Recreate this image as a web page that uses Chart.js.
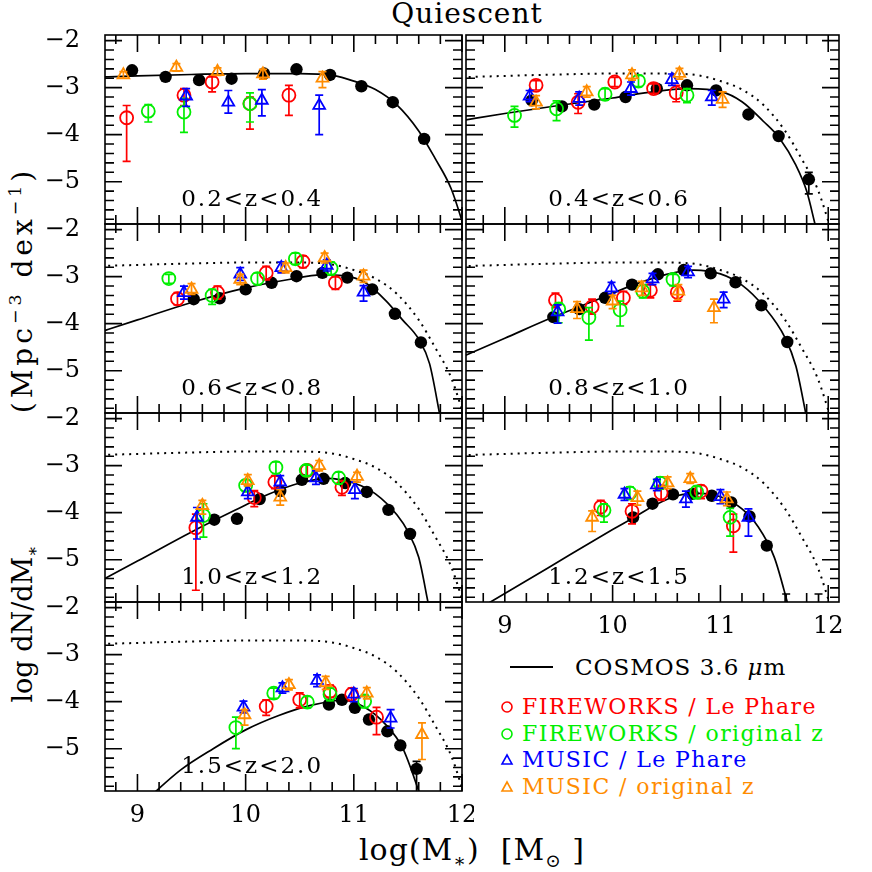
<!DOCTYPE html>
<html>
<head>
<meta charset="utf-8">
<script src="https://cdn.jsdelivr.net/npm/chart.js@4.4.1/dist/chart.umd.min.js"></script>
<style>
  html, body { margin: 0; padding: 0; background: #fff; }
  body { position: relative; width: 872px; height: 872px; overflow: hidden; font-family: "DejaVu Serif", serif; color: #000; }
  canvas { position: absolute; }
  .lbl { position: absolute; white-space: pre; transform: translate(-50%, -50%); }
  .rot { transform: translate(-50%, -50%) rotate(-90deg); }
  sub, sup { font-size: 0.62em; line-height: 0; }
  .leg { position: absolute; white-space: pre; font-size: 22px; letter-spacing: 1.4px; line-height: 26px; }
  .mk { position: absolute; }
</style>
</head>
<body>
<div class="lbl" style="left:467px;top:13px;font-size:28px;letter-spacing:1px">Quiescent</div>
<div class="lbl rot" style="left:22px;top:624px;font-size:27px">log dN/dM<sub>∗</sub></div>
<div class="lbl rot" style="left:22px;top:290px;font-size:28px;letter-spacing:4px">(Mpc<sup>−3</sup> dex<sup>−1</sup>)</div>
<div class="lbl" style="left:472px;top:849px;font-size:30px;letter-spacing:1px">log(M<sub>∗</sub>)  [M<sub>⊙</sub> ]</div>

<div style="position:absolute;left:510px;top:666px;width:43px;height:2px;background:#000"></div>
<div class="leg" style="left:575px;top:654px;font-size:23px;letter-spacing:1px">COSMOS 3.6 <i>μ</i>m</div>

<svg class="mk" style="left:500px;top:700px" width="14" height="14"><circle cx="7" cy="7" r="5" fill="none" stroke="#ff0000" stroke-width="1.6"/></svg>
<div class="leg" style="left:522px;top:694px;color:#ff0000">FIREWORKS / Le Phare</div>
<svg class="mk" style="left:500px;top:727px" width="14" height="14"><circle cx="7" cy="7" r="5" fill="none" stroke="#00ee00" stroke-width="1.6"/></svg>
<div class="leg" style="left:522px;top:721px;color:#00ee00">FIREWORKS / original z</div>
<svg class="mk" style="left:500px;top:753px" width="14" height="14"><polygon points="7,2 12,11 2,11" fill="none" stroke="#0000ff" stroke-width="1.6"/></svg>
<div class="leg" style="left:522px;top:747px;color:#0000ff">MUSIC / Le Phare</div>
<svg class="mk" style="left:500px;top:780px" width="14" height="14"><polygon points="7,2 12,11 2,11" fill="none" stroke="#ff8c00" stroke-width="1.6"/></svg>
<div class="leg" style="left:522px;top:774px;color:#ff8c00">MUSIC / original z</div>

<script>
// ---- data ----
const panelLabels = ['0.2<z<0.4', '0.4<z<0.6', '0.6<z<0.8', '0.8<z<1.0', '1.0<z<1.2', '1.2<z<1.5', '1.5<z<2.0'];
const xTickValues = [9, 10, 11, 12];
const yTickValues = [-2, -3, -4, -5];

// COSMOS 3.6um fit of the 0.2<z<0.4 bin (dotted in the other panels)
const refFitX = [8.6, 9.0, 9.5, 10.0, 10.5, 10.8, 11.0, 11.2, 11.4, 11.6, 11.75, 11.9, 12.05];
const refFitY = [-2.78, -2.75, -2.72, -2.70, -2.70, -2.74, -2.86, -3.04, -3.37, -3.92, -4.5, -5.15, -6.2];

// COSMOS fits, one per redshift bin
const fitX = [
  refFitX,
  [8.6, 9.0, 9.5, 10.0, 10.4, 10.7, 11.0, 11.2, 11.4, 11.55, 11.7, 11.8, 11.9, 12.0],
  [8.6, 9.0, 9.5, 10.0, 10.4, 10.7, 10.9, 11.1, 11.3, 11.45, 11.6, 11.7, 11.8],
  [8.6, 9.0, 9.45, 9.9, 10.2, 10.5, 10.75, 11.0, 11.2, 11.4, 11.6, 11.7, 11.8],
  [8.6, 9.0, 9.5, 9.9, 10.2, 10.5, 10.75, 11.0, 11.2, 11.4, 11.5, 11.6, 11.68, 11.75],
  [8.8, 9.2, 9.6, 10.0, 10.2, 10.4, 10.6, 10.8, 11.0, 11.2, 11.35, 11.5, 11.62, 11.7],
  [9.1, 9.4, 9.7, 10.0, 10.3, 10.6, 10.9, 11.1, 11.3, 11.45, 11.6, 11.7]
];
const fitY = [
  refFitY,
  [-3.70, -3.55, -3.38, -3.22, -3.08, -3.02, -3.08, -3.30, -3.72, -4.08, -4.65, -5.2, -6.1, -6.8],
  [-4.22, -3.92, -3.55, -3.24, -3.06, -2.96, -2.98, -3.12, -3.52, -3.92, -4.33, -4.85, -6.0],
  [-4.71, -4.31, -3.86, -3.45, -3.17, -2.95, -2.86, -2.94, -3.18, -3.63, -4.3, -4.9, -6.0],
  [-5.52, -5.03, -4.41, -3.95, -3.62, -3.37, -3.27, -3.37, -3.6, -4.05, -4.4, -4.95, -5.84, -6.7],
  [-5.99, -5.45, -4.9, -4.36, -4.1, -3.83, -3.64, -3.59, -3.66, -3.92, -4.3, -4.95, -5.9, -6.6],
  [-6.05, -5.45, -5.0, -4.6, -4.3, -4.08, -3.97, -4.12, -4.5, -4.98, -5.9, -6.6]
];

// [log M, log phi, lower end of error bar, upper end of error bar]
const cosmosPts = [
  [[8.95, -2.63], [9.26, -2.77], [9.57, -2.84], [9.87, -2.81], [10.17, -2.70], [10.47, -2.61], [10.78, -2.73], [11.07, -2.97], [11.36, -3.31], [11.65, -4.09, -4.16, -4.02]],
  [[9.25, -3.27], [9.53, -3.40], [9.83, -3.36], [10.12, -3.20], [10.41, -3.02], [10.69, -2.95], [10.96, -3.06], [11.26, -3.57], [11.54, -4.03], [11.82, -4.95, -5.26, -4.80]],
  [[9.52, -3.48], [9.76, -3.46], [10.0, -3.27], [10.24, -3.13], [10.47, -2.99], [10.71, -2.92], [10.94, -3.02], [11.17, -3.27], [11.38, -3.79], [11.62, -4.40]],
  [[9.45, -3.86], [9.69, -3.69], [9.93, -3.45], [10.18, -3.17], [10.42, -2.95], [10.66, -2.86], [10.91, -2.93], [11.14, -3.12], [11.38, -3.61], [11.62, -4.39]],
  [[9.71, -4.15], [9.92, -4.13], [10.13, -3.71], [10.32, -3.54], [10.52, -3.30], [10.72, -3.28], [10.92, -3.37], [11.12, -3.56], [11.32, -3.94], [11.52, -4.45]],
  [[10.19, -4.10], [10.37, -3.81], [10.56, -3.61], [10.74, -3.60], [10.92, -3.64], [11.10, -3.78], [11.27, -4.08], [11.43, -4.70], [11.61, -6.4, -7.0, -5.73], [11.91, -6.4, -7.0, -5.73]],
  [[10.77, -4.06], [10.89, -3.96], [11.01, -4.13], [11.14, -4.38], [11.31, -4.63], [11.43, -4.93], [11.58, -5.43, -5.95, -5.27]]
];

const fireworksLePhare = [
  [[8.90, -3.64, -4.57, -3.38], [9.43, -3.16, -3.38, -3.02], [9.69, -2.88, -3.09, -2.77], [10.04, -3.34, -3.88, -3.20], [10.40, -3.16, -3.59, -2.95]],
  [[9.29, -2.95, -3.05, -2.85], [9.68, -3.31, -3.55, -3.13], [10.02, -2.88, -2.98, -2.78], [10.38, -3.02, -3.12, -2.92], [10.59, -3.11, -3.30, -2.95]],
  [[9.37, -3.47, -3.60, -3.34], [9.74, -3.34, -3.48, -3.20], [10.19, -2.92, -3.07, -2.78], [10.53, -2.68, -2.81, -2.56], [10.83, -3.13, -3.27, -3.00]],
  [[9.47, -3.50, -3.66, -3.35], [9.81, -3.64, -3.80, -3.48], [10.10, -3.45, -3.59, -3.31], [10.35, -3.29, -3.45, -3.17], [10.60, -3.33, -3.52, -3.20]],
  [[9.54, -4.32, -5.65, -4.03], [10.08, -3.68, -3.87, -3.53], [10.27, -3.35, -3.49, -3.21], [10.57, -3.10, -3.22, -2.99], [10.89, -3.46, -3.63, -3.32]],
  [[9.89, -3.88, -4.06, -3.74], [10.18, -3.97, -4.24, -3.81], [10.45, -3.58, -3.74, -3.42], [10.82, -3.54, -3.70, -3.42], [11.12, -4.28, -4.84, -4.03]],
  [[10.19, -4.10, -4.29, -3.96], [10.50, -3.96, -4.13, -3.81], [10.78, -3.78, -3.91, -3.65], [10.98, -3.84, -3.98, -3.71], [11.21, -4.33, -4.70, -4.12]]
];

const fireworksOrigZ = [
  [[9.10, -3.50, -3.73, -3.36], [9.43, -3.52, -3.95, -3.23], [10.04, -3.34, -3.73, -3.11]],
  [[9.09, -3.59, -3.84, -3.40], [9.48, -3.45, -3.70, -3.28], [9.93, -3.14, -3.26, -3.02], [10.24, -2.86, -2.98, -2.74], [10.69, -3.16, -3.32, -3.02]],
  [[9.29, -3.04, -3.14, -2.95], [9.69, -3.40, -3.59, -3.27], [10.11, -3.04, -3.17, -2.92], [10.46, -2.62, -2.74, -2.50], [10.79, -2.82, -2.96, -2.69]],
  [[9.50, -3.69, -3.98, -3.55], [9.78, -3.87, -4.35, -3.66], [10.07, -3.71, -4.05, -3.52], [10.28, -3.31, -3.45, -3.17], [10.56, -3.06, -3.19, -2.95]],
  [[9.61, -4.06, -4.52, -3.81], [10.00, -3.42, -3.55, -3.30], [10.28, -3.04, -3.17, -2.92], [10.56, -3.10, -3.21, -2.99], [10.86, -3.26, -3.39, -3.14]],
  [[9.92, -3.95, -4.20, -3.81], [10.16, -3.58, -3.72, -3.45], [10.44, -3.37, -3.50, -3.24], [10.78, -3.56, -3.70, -3.44], [11.09, -4.10, -4.50, -3.91]],
  [[9.91, -4.55, -5.00, -4.33], [10.26, -3.82, -3.93, -3.71], [10.57, -4.01, -4.13, -3.89], [10.78, -3.84, -3.98, -3.71], [11.10, -3.99, -4.13, -3.85]]
];

const musicLePhare = [
  [[9.45, -3.18, -3.40, -3.02], [9.84, -3.31, -3.54, -3.06], [10.15, -3.27, -3.60, -3.04], [10.68, -3.38, -4.00, -3.16]],
  [[9.23, -3.18, -3.30, -3.06], [9.69, -3.23, -3.37, -3.09], [10.17, -3.02, -3.16, -2.88], [10.55, -2.83, -2.95, -2.71], [10.92, -3.20, -3.37, -3.06]],
  [[9.43, -3.34, -3.48, -3.20], [9.95, -2.95, -3.08, -2.81], [10.33, -2.81, -2.92, -2.69], [10.75, -2.76, -2.88, -2.64], [11.09, -3.33, -3.52, -3.19]],
  [[9.49, -3.75, -3.99, -3.60], [9.99, -3.24, -3.36, -3.12], [10.37, -3.05, -3.17, -2.93], [10.70, -2.90, -3.02, -2.78], [11.03, -3.48, -3.66, -3.33]],
  [[9.55, -4.10, -4.56, -3.89], [10.02, -3.56, -3.70, -3.42], [10.32, -3.35, -3.49, -3.21], [10.65, -3.26, -3.40, -3.11], [11.01, -3.51, -3.70, -3.35]],
  [[10.11, -3.61, -3.74, -3.49], [10.41, -3.41, -3.53, -3.29], [10.68, -3.71, -3.88, -3.54], [11.00, -3.66, -3.81, -3.51], [11.26, -4.10, -4.50, -3.92]],
  [[9.98, -4.12, -4.24, -3.99], [10.34, -3.71, -3.82, -3.60], [10.66, -3.55, -3.68, -3.43], [11.00, -3.84, -4.00, -3.72], [11.34, -4.35, -4.56, -4.17]]
];

const musicOrigZ = [
  [[8.87, -2.73, -2.80, -2.66], [9.36, -2.57, -2.65, -2.49], [9.74, -2.66, -2.74, -2.58], [10.16, -2.71, -2.82, -2.61], [10.71, -2.80, -3.00, -2.66]],
  [[9.29, -3.31, -3.45, -3.17], [9.76, -3.09, -3.20, -2.98], [10.18, -2.73, -2.84, -2.62], [10.62, -2.70, -2.82, -2.59], [11.02, -3.25, -3.42, -3.09]],
  [[9.50, -3.27, -3.38, -3.15], [9.95, -3.06, -3.17, -2.95], [10.37, -2.81, -2.92, -2.71], [10.73, -2.60, -2.71, -2.50], [11.09, -2.99, -3.12, -2.86]],
  [[9.67, -3.68, -3.89, -3.53], [10.00, -3.52, -3.68, -3.40], [10.27, -3.24, -3.40, -3.10], [10.61, -3.31, -3.49, -3.17], [10.94, -3.66, -3.98, -3.48]],
  [[9.60, -3.85, -4.03, -3.74], [10.02, -3.32, -3.43, -3.19], [10.32, -3.67, -3.84, -3.51], [10.68, -3.00, -3.11, -2.89], [11.03, -3.23, -3.35, -3.14]],
  [[9.81, -4.10, -4.40, -3.96], [10.23, -3.68, -3.84, -3.54], [10.51, -3.37, -3.49, -3.24], [10.72, -3.28, -3.38, -3.17], [11.06, -3.71, -3.85, -3.56]],
  [[9.99, -4.28, -4.50, -4.17], [10.40, -3.64, -3.75, -3.53], [10.74, -3.60, -3.74, -3.46], [11.12, -3.82, -3.94, -3.70], [11.63, -4.70, -5.23, -4.45]]
];

// ---- layout ----
const colLeft = [105, 466];
const colWidth = [357, 373];
const colXMin = [8.7, 8.64];
const colXMax = [12.0, 12.1];
const rowTop = [35, 224, 413, 602];
const rowHeight = 189;
const yMin = -5.9, yMax = -1.88;
const FONT = '"DejaVu Serif", serif';

const RED = '#ff0000', GREEN = '#00ee00', BLUE = '#0000ff', ORANGE = '#ff8c00';

const toXY = (xs, ys) => xs.map((x, i) => ({ x, y: ys[i] }));
const toPts = rows => rows.map(r => ({ x: r[0], y: r[1] }));
const toErr = rows => rows.map(r => (r.length > 2 ? [r[2], r[3]] : null));

// vertical error bars with caps, drawn just before the markers of the same dataset
const errorBars = {
  id: 'errorBars',
  beforeDatasetDraw(chart, args) {
    const ds = chart.data.datasets[args.index];
    if (!ds.errs) return;
    const { ctx, chartArea: a, scales: { x, y } } = chart;
    ctx.save();
    ctx.beginPath();
    ctx.rect(a.left, a.top, a.width, a.height);
    ctx.clip();
    ctx.strokeStyle = ds.errColor;
    ctx.lineWidth = 1.7;
    ds.data.forEach((p, j) => {
      const e = ds.errs[j];
      if (!e) return;
      const px = x.getPixelForValue(p.x);
      const lo = y.getPixelForValue(e[0]);
      const hi = y.getPixelForValue(e[1]);
      ctx.beginPath();
      ctx.moveTo(px, lo); ctx.lineTo(px, hi);
      ctx.moveTo(px - 4, lo); ctx.lineTo(px + 4, lo);
      ctx.moveTo(px - 4, hi); ctx.lineTo(px + 4, hi);
      ctx.stroke();
    });
    ctx.restore();
  }
};

// box, inward ticks on all four sides, tick labels and bin label
const frame = {
  id: 'frame',
  afterDraw(chart, args, opts) {
    const { ctx, chartArea: a, scales: { x, y } } = chart;
    ctx.save();
    ctx.strokeStyle = '#000';
    ctx.lineWidth = 1.6;
    ctx.strokeRect(a.left, a.top, a.width, a.height);
    ctx.beginPath();
    for (let k = Math.ceil(x.min * 5); k <= Math.floor(x.max * 5); k++) {
      const px = x.getPixelForValue(k / 5);
      const len = k % 5 === 0 ? 17 : 9;
      ctx.moveTo(px, a.bottom); ctx.lineTo(px, a.bottom - len);
      ctx.moveTo(px, a.top); ctx.lineTo(px, a.top + len);
    }
    for (let k = Math.ceil(y.min * 5); k <= Math.floor(y.max * 5); k++) {
      const py = y.getPixelForValue(k / 5);
      const len = k % 5 === 0 ? 17 : 9;
      ctx.moveTo(a.left, py); ctx.lineTo(a.left + len, py);
      ctx.moveTo(a.right, py); ctx.lineTo(a.right - len, py);
    }
    ctx.stroke();

    ctx.fillStyle = '#000';
    if (opts.yLabels) {
      ctx.font = '24px ' + FONT;
      ctx.textAlign = 'right';
      ctx.textBaseline = 'middle';
      yTickValues.forEach(v => ctx.fillText('−' + Math.abs(v), a.left - 25, y.getPixelForValue(v)));
    }
    if (opts.xLabels) {
      ctx.font = '24px ' + FONT;
      ctx.textAlign = 'center';
      ctx.textBaseline = 'top';
      xTickValues.forEach(v => ctx.fillText(String(v), x.getPixelForValue(v), a.bottom + 13));
    }
    ctx.font = '23px ' + FONT;
    if ('letterSpacing' in ctx) ctx.letterSpacing = '2px';
    ctx.textAlign = 'center';
    ctx.textBaseline = 'alphabetic';
    ctx.fillText(opts.label, x.getPixelForValue(10.06), a.top + 171);
    ctx.restore();
  }
};

function seriesDataset(rows, color, style, order) {
  return {
    data: toPts(rows),
    errs: toErr(rows),
    errColor: color,
    pointStyle: style,
    pointRadius: style === 'triangle' ? 6.8 : 6.5,
    backgroundColor: 'rgba(0,0,0,0)',
    borderColor: color,
    borderWidth: 1.8,
    order
  };
}

function makePanel(i) {
  const col = i % 2, row = Math.floor(i / 2);
  const padL = col === 0 ? 80 : 10, padR = 12, padT = 12;
  const padB = (i === 5 || i === 6) ? 48 : 12;
  const cv = document.createElement('canvas');
  cv.width = colWidth[col] + padL + padR;
  cv.height = rowHeight + padT + padB;
  cv.style.left = (colLeft[col] - padL) + 'px';
  cv.style.top = (rowTop[row] - padT) + 'px';
  document.body.appendChild(cv);

  const datasets = [];
  datasets.push({
    data: toXY(fitX[i], fitY[i]), showLine: true, borderColor: '#000', borderWidth: 1.7,
    pointRadius: 0, cubicInterpolationMode: 'monotone', order: 10
  });
  if (i > 0) {
    datasets.push({
      data: toXY(refFitX, refFitY), showLine: true, borderColor: '#000', borderWidth: 2,
      borderDash: [2, 5], pointRadius: 0, cubicInterpolationMode: 'monotone', order: 11
    });
  }
  datasets.push({
    data: toPts(cosmosPts[i]), errs: toErr(cosmosPts[i]), errColor: '#000',
    pointStyle: 'circle', pointRadius: 6.2, backgroundColor: '#000', borderColor: '#000', borderWidth: 0, order: 6
  });
  datasets.push(seriesDataset(fireworksLePhare[i], RED, 'circle', 4));
  datasets.push(seriesDataset(fireworksOrigZ[i], GREEN, 'circle', 3));
  datasets.push(seriesDataset(musicLePhare[i], BLUE, 'triangle', 2));
  datasets.push(seriesDataset(musicOrigZ[i], ORANGE, 'triangle', 1));

  new Chart(cv, {
    type: 'scatter',
    data: { datasets },
    options: {
      responsive: false,
      animation: false,
      devicePixelRatio: 1,
      events: [],
      layout: { padding: { left: padL, right: padR, top: padT, bottom: padB } },
      scales: {
        x: { type: 'linear', min: colXMin[col], max: colXMax[col], display: false },
        y: { type: 'linear', min: yMin, max: yMax, display: false }
      },
      plugins: {
        legend: { display: false },
        tooltip: { enabled: false },
        frame: { yLabels: col === 0, xLabels: i === 5 || i === 6, label: panelLabels[i] }
      }
    },
    plugins: [errorBars, frame]
  });
}

for (let i = 0; i < panelLabels.length; i++) makePanel(i);
</script>
</body>
</html>
